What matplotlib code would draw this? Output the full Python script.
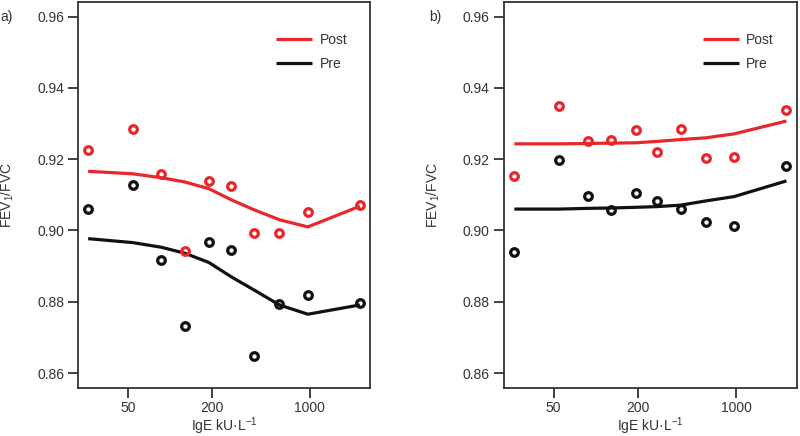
import matplotlib
matplotlib.use("Agg")
import matplotlib.pyplot as plt
from matplotlib.ticker import FixedLocator, NullLocator

plt.rcParams['font.family'] = ['Liberation Sans', 'DejaVu Sans']
plt.rcParams['mathtext.fontset'] = 'custom'
plt.rcParams['mathtext.rm'] = 'Liberation Sans'
plt.rcParams['mathtext.it'] = 'Liberation Sans'

RED = '#e8262b'
BLACK = '#111111'

# Panel a
a_x = [26, 54, 86.5, 128, 190, 274, 399, 606, 967, 2277]
a_post_pts = [0.9225, 0.9284, 0.9159, 0.8942, 0.9138, 0.9126, 0.8992, 0.8992, 0.9051, 0.9072]
a_pre_pts = [0.9059, 0.9128, 0.8917, 0.8731, 0.8968, 0.8946, 0.8649, 0.8793, 0.8818, 0.8797]
a_post_fit = [0.9166, 0.9159, 0.9148, 0.9136, 0.9117, 0.9086, 0.9058, 0.9030, 0.9010, 0.9068]
a_pre_fit = [0.8977, 0.8966, 0.8953, 0.8936, 0.8910, 0.8870, 0.8833, 0.8791, 0.8765, 0.8791]

# Panel b
b_x = [26.3, 55, 87.5, 128, 193, 275, 402, 610, 966, 2280]
b_post_pts = [0.9154, 0.9349, 0.9250, 0.9253, 0.9283, 0.9221, 0.9286, 0.9204, 0.9206, 0.9339]
b_pre_pts = [0.8940, 0.9198, 0.9096, 0.9057, 0.9106, 0.9083, 0.9061, 0.9025, 0.9013, 0.9181]
b_post_fit = [0.9243, 0.9243, 0.9244, 0.9245, 0.9246, 0.9250, 0.9255, 0.9260, 0.9271, 0.9307]
b_pre_fit = [0.9060, 0.9060, 0.9062, 0.9063, 0.9065, 0.9067, 0.9071, 0.9083, 0.9095, 0.9139]

x_ticks = [50, 200, 1000]
x_ticklabels = ['50', '200', '1000']
y_ticks = [0.86, 0.88, 0.90, 0.92, 0.94, 0.96]
y_ticklabels = ['0.86', '0.88', '0.90', '0.92', '0.94', '0.96']

FS = 10
fig = plt.figure(figsize=(8.0, 4.36), dpi=100)
W, H = 800, 436
panels = [
    ('a)', a_x, a_post_pts, a_pre_pts, a_post_fit, a_pre_fit, 78, 370, 0, 10),
    ('b)', b_x, b_post_pts, b_pre_pts, b_post_fit, b_pre_fit, 503.5, 796.5, 429, 436),
]
for lab, xs, post_p, pre_p, post_f, pre_f, left, right, labx, ylabx in panels:
    top, bottom = 2, 388
    ax = fig.add_axes([left / W, 1 - bottom / H, (right - left) / W, (bottom - top) / H])
    ax.set_xscale('log')
    ax.plot(xs, post_f, color=RED, lw=2.3, label='Post', solid_capstyle='butt')
    ax.plot(xs, pre_f, color=BLACK, lw=2.3, label='Pre', solid_capstyle='butt')
    ax.plot(xs, post_p, 'o', ms=5.5, mfc='none', mec=RED, mew=2.3)
    ax.plot(xs, pre_p, 'o', ms=5.5, mfc='none', mec=BLACK, mew=2.3)
    ax.set_xlim(22, 2690)
    ax.set_ylim(0.8558, 0.9641)
    ax.xaxis.set_major_locator(FixedLocator(x_ticks))
    ax.xaxis.set_minor_locator(NullLocator())
    ax.set_xticklabels(x_ticklabels)
    ax.set_yticks(y_ticks)
    ax.set_yticklabels(y_ticklabels)
    ax.tick_params(axis='both', direction='out', length=7, width=1.3, labelsize=FS,
                   colors='#333333', labelcolor='#333333', pad=3)
    ax.tick_params(axis='x', pad=2.5)
    for s in ax.spines.values():
        s.set_linewidth(1.3)
        s.set_color('#333333')
    ax.set_xlabel('IgE kU·L$^{-1}$', fontsize=FS, color='#333333', labelpad=0.5)
    ax.set_ylabel('FEV$_1$/FVC', fontsize=FS, color='#333333')
    ax.yaxis.set_label_coords((ylabx + 6 - left) / (right - left), 0.5)
    leg = ax.legend(loc='upper right', bbox_to_anchor=(0.955, 0.945), frameon=False,
                    fontsize=FS, handlelength=2.6, handletextpad=0.5, labelspacing=0.7,
                    borderaxespad=0.3)
    for t in leg.get_texts():
        t.set_color('#333333')
    fig.text(labx / W, 1 - 17 / H, lab, fontsize=FS, color='#333333', va='center', ha='left')

fig.savefig('out.png', dpi=100)
